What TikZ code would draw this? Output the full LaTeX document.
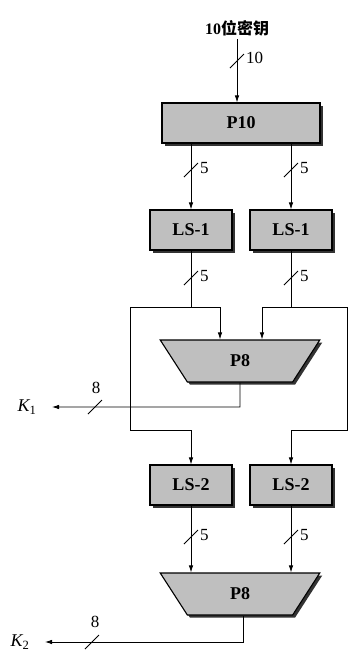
\documentclass[tikz,border=0pt]{standalone}
\usepackage{fontspec}
\setmainfont{Liberation Serif}
\newfontfamily\cjk{Noto Sans CJK SC}
\usetikzlibrary{shapes.geometric,shadows,arrows.meta,calc}
\tikzset{
  box/.style={draw=black,line width=1.1pt,fill=gray!50,minimum height=40pt,inner sep=0pt,
    font=\fontsize{18}{18}\selectfont\bfseries,
    drop shadow={shadow xshift=2.5pt,shadow yshift=-2.5pt,fill=black!80,opacity=1}},
  trap/.style={trapezium,shape border rotate=180,trapezium left angle=67,trapezium right angle=67,
    trapezium stretches=true,minimum width=160pt,minimum height=42pt,inner sep=0pt,
    draw=black,line width=1.1pt,fill=gray!50,font=\fontsize{18}{18}\selectfont\bfseries,
    drop shadow={shadow xshift=2.5pt,shadow yshift=-2.5pt,fill=black!80,opacity=1}},
  wire/.style={line width=0.8pt},
  arr/.style={wire,-{Latex[length=7pt,width=4.5pt]}},
  lbl/.style={font=\fontsize{17}{17}\selectfont,inner sep=1pt},
  klbl/.style={font=\fontsize{18}{18}\selectfont\itshape,inner sep=1pt},
  bus/.pic={\draw[line width=0.9pt] (-7,7) -- (7,-7);}
}
\begin{document}
\begin{tikzpicture}[x=1pt,y=-1pt]
\useasboundingbox (0,0) rectangle (350,651);
% nodes
\node[font=\fontsize{16}{16}\selectfont\bfseries] (title) at (237,28) {10{\cjk 位密钥}};
\node[box,minimum width=158pt] (p10) at (241,123) {P10};
\node[box,minimum width=82pt] (ls1l) at (191,230) {LS-1};
\node[box,minimum width=82pt] (ls1r) at (291,230) {LS-1};
\node[trap] (p8a) at (240,361) {P8};
\node[box,minimum width=82pt] (ls2l) at (191,485) {LS-2};
\node[box,minimum width=82pt] (ls2r) at (291,485) {LS-2};
\node[trap] (p8b) at (240,594) {P8};
\node[klbl] (k1) at (27,407) {K\textsubscript{\upshape 1}};
\node[klbl] (k2) at (20,642) {K\textsubscript{\upshape 2}};
% coordinates
\coordinate (jl) at (191,307);
\coordinate (jr) at (291,307);
\coordinate (al) at (220,307);
\coordinate (bl) at (130,307);
\coordinate (cl) at (130,430);
\coordinate (dl) at (191,430);
\coordinate (ar) at (262,307);
\coordinate (br) at (347,307);
\coordinate (cr) at (347,430);
\coordinate (dr) at (291,430);
\coordinate (o1) at (240,407);
\coordinate (o2) at (243,642);
% top
\draw[arr] (title.south) -- (p10.north -| title);
\pic at (237,61) {bus};
\node[lbl,anchor=west] at (245,58) {10};
% P10 -> LS-1
\draw[arr] (p10.south -| ls1l) -- (ls1l.north);
\draw[arr] (p10.south -| ls1r) -- (ls1r.north);
\pic at (191,170) {bus};
\pic at (291,170) {bus};
\node[lbl,anchor=west] at (199,168) {5};
\node[lbl,anchor=west] at (299,168) {5};
% LS-1 -> splits
\draw[wire] (ls1l.south) -- (jl);
\draw[wire] (ls1r.south) -- (jr);
\pic at (191,278) {bus};
\pic at (291,278) {bus};
\node[lbl,anchor=west] at (199,276) {5};
\node[lbl,anchor=west] at (299,276) {5};
\draw[arr] (bl) -- (al) -- (al |- p8a.north);
\draw[arr] (bl) -- (cl) -- (dl) -- (ls2l.north);
\draw[arr] (br) -- (ar) -- (ar |- p8a.north);
\draw[arr] (br) -- (cr) -- (dr) -- (ls2r.north);
% K1
\draw[arr] (p8a.south) -- (o1) -- (k1.east -| 52,0);
\pic at (95,407) {bus};
\node[lbl] at (96,388) {8};
% LS-2 -> P8
\draw[arr] (ls2l.south) -- (ls2l.south |- p8b.north);
\draw[arr] (ls2r.south) -- (ls2r.south |- p8b.north);
\pic at (191,537) {bus};
\pic at (291,537) {bus};
\node[lbl,anchor=west] at (199,535) {5};
\node[lbl,anchor=west] at (299,535) {5};
% K2
\draw[arr] (p8b.south -| o2) -- (o2) -- (k2.east -| 45,0);
\pic at (92,642) {bus};
\node[lbl] at (95,622) {8};
\end{tikzpicture}
\end{document}
